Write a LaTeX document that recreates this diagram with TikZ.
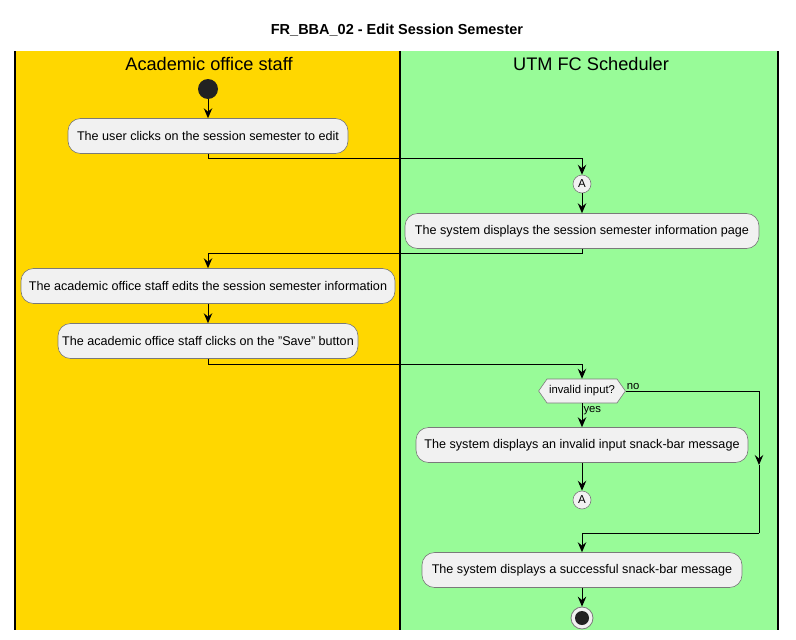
\documentclass[tikz,border=0pt]{standalone}
\usepackage{fontspec}
\setmainfont{Liberation Sans}
\usetikzlibrary{arrows.meta,positioning,shapes.misc,shapes.symbols}
\definecolor{laneA}{HTML}{FFD700}
\definecolor{laneB}{HTML}{98FB98}
\definecolor{boxfill}{HTML}{F1F1F1}
\definecolor{boxline}{HTML}{7A7A7A}
\definecolor{dark}{HTML}{222222}
\tikzset{
  actbox/.style={draw=boxline, fill=boxfill, rounded corners=12.5pt, minimum height=35pt,
    inner xsep=4pt, font=\fontsize{12.6}{14}\selectfont, line width=0.6pt},
  conn/.style={circle, draw=boxline, fill=boxfill, minimum size=18pt, inner sep=0pt,
    font=\fontsize{11.5}{13}\selectfont, line width=0.6pt},
  arr/.style={draw=black, line width=1pt, -{Stealth[length=10pt,width=8.5pt,inset=3.5pt]}},
  ln/.style={draw=black, line width=1pt},
  lbl/.style={font=\fontsize{11.3}{13}\selectfont, inner sep=1pt},
  lanehead/.style={font=\fontsize{18.2}{20}\selectfont},
  lanebar/.style={draw=black, line width=1.5pt}
}
\begin{document}
\begin{tikzpicture}[x=1pt,y=-1pt]
\useasboundingbox (0,0) rectangle (796,640);
% lanes
\fill[laneA] (15,51) rectangle (400,630);
\fill[laneB] (400,51) rectangle (778,630);
\draw[lanebar] (15,51) -- (15,630);
\draw[lanebar] (400,51) -- (400,630);
\draw[lanebar] (778,51) -- (778,630);
% title and headers
\node[font=\bfseries\fontsize{14.5}{16}\selectfont] (title) at (397,30) {FR\_BBA\_02 - Edit Session Semester};
\node[lanehead] (hA) at (209,64) {Academic office staff};
\node[lanehead] (hB) at (591,64) {UTM FC Scheduler};
% nodes
\node[circle, fill=dark, minimum size=20pt, inner sep=0pt] (start) at (208,89) {};
\node[actbox, minimum width=280pt] (b1) at (208,136) {The user clicks on the session semester to edit};
\node[conn] (a1) at (582,184) {A};
\node[actbox, minimum width=354pt] (b2) at (582,231) {The system displays the session semester information page};
\node[actbox, minimum width=374pt] (b3) at (208,286) {The academic office staff edits the session semester information};
\node[actbox, minimum width=300pt] (b4) at (208,341) {The academic office staff clicks on the "Save" button};
\node[signal, signal to=west and east, signal pointer angle=110, draw=boxline, fill=boxfill,
  minimum height=24pt, minimum width=85pt, inner xsep=2pt, inner ysep=0pt,
  font=\fontsize{11.3}{13}\selectfont, line width=0.6pt] (dia) at (582,391) {invalid input?};
\node[actbox, minimum width=332pt] (b5) at (582,445) {The system displays an invalid input snack-bar message};
\node[conn] (a2) at (582,500) {A};
\node[actbox, minimum width=320pt] (b6) at (582,570) {The system displays a successful snack-bar message};
\node[circle, draw=boxline, fill=boxfill, minimum size=22pt, inner sep=0pt, line width=0.8pt] (stop) at (582,618) {};
\node[circle, fill=dark, minimum size=14pt, inner sep=0pt] (stopin) at (582,618) {};
% helper coordinates
\coordinate (j1) at (208,158);
\coordinate (j2) at (582,253);
\coordinate (j3) at (208,364);
\coordinate (n1) at (759,465);
\coordinate (n2) at (759,533);
% connectors
\draw[arr] (start) -- (b1);
\draw[arr] (b1.south) -- (j1) -| (a1.north);
\draw[arr] (a1) -- (b2);
\draw[arr] (b2.south) -- (j2) -| (b3.north);
\draw[arr] (b3) -- (b4);
\draw[arr] (b4.south) -- (j3) -| (dia.north);
\draw[arr] (dia.south) -- node[lbl, anchor=west, pos=0.3] {yes} (b5.north);
\draw[arr] (dia.east) -| (n1);
\node[lbl, anchor=south west] (nolbl) at (dia.east) {no};
\draw[ln] (n1) -- (n2);
\draw[arr] (n2) -| (b6.north);
\draw[arr] (b5) -- (a2);
\draw[arr] (b6) -- (stop);
\end{tikzpicture}
\end{document}
